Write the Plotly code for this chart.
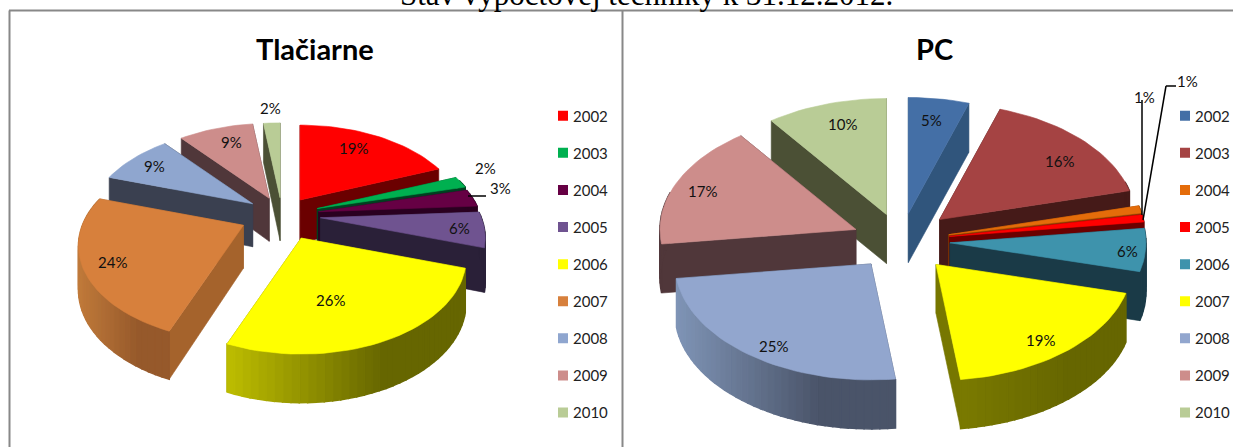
import math
import plotly.graph_objects as go

# ---- data ----
years = ["2002", "2003", "2004", "2005", "2006", "2007", "2008", "2009", "2010"]
printers_pct = [19, 2, 3, 6, 26, 24, 9, 9, 2]
pc_pct = [5, 16, 1, 1, 6, 19, 25, 17, 10]
main_title = "Stav výpočtovej techniky k 31.12.2012."
printers_title = "Tlačiarne"
pc_title = "PC"

# ---- styles ----
FONT = "Lato, Liberation Sans, sans-serif"
printers_top = ["#FF0000", "#00B050", "#660044", "#6F5390", "#FFFF00", "#D7803C", "#8FA6CF", "#CD8D8B", "#B9CC96"]
printers_side = ["#6B0000", "#004020", "#2A0020", "#2A2038", "#777700", "#A5632C", "#3A4050", "#50373A", "#4B5035"]
printers_rim_l = ["#6B0000", "#004020", "#2A0020", "#2A2038", "#BDBD00", "#C07A3A", "#3A4050", "#50373A", "#4B5035"]
printers_rim_r = ["#6B0000", "#004020", "#2A0020", "#2A2038", "#666600", "#96592B", "#3A4050", "#50373A", "#4B5035"]
printers_explode = [.20, .23, .23, .24, .28, .265, .22, .20, .19]
printers_order = [0, 8, 7, 6, 1, 2, 3, 5, 4]
printers_geom = dict(cx=282, cy=215, rx=161, ry=91, k=.216, depth=43)
printers_labels = [(353, 148), (485, 168), (500, 188), (459, 228), (330, 300), (112, 262), (154, 166), (231, 142), (270, 108)]

pc_top = ["#446FA6", "#A54343", "#E46C0A", "#FF0000", "#3E93AC", "#FFFF00", "#92A6CE", "#CD8D8B", "#B9CC96"]
pc_side = ["#30557C", "#451A18", "#8A4000", "#6B0000", "#1A3A47", "#777700", "#4A5469", "#50373A", "#4B5035"]
pc_rim_l = ["#30557C", "#451A18", "#8A4000", "#6B0000", "#1A3A47", "#7A7A00", "#7F94B6", "#50373A", "#4B5035"]
pc_rim_r = ["#30557C", "#451A18", "#8A4000", "#6B0000", "#1A3A47", "#666600", "#4A5469", "#50373A", "#4B5035"]
pc_explode = [.24, .27, .25, .25, .25, .27, .25, .25, .24]
pc_order = [0, 8, 7, 1, 2, 3, 4, 6, 5]
pc_geom = dict(cx=901, cy=241, rx=196, ry=116, k=0.0, depth=49)
pc_labels = [(931, 120), (1059, 161), (1144, 97), (1187, 81), (1127, 251), (1040, 340), (773, 346), (702, 191), (842, 124)]


def hex_rgb(c):
    return tuple(int(c[i:i + 2], 16) for i in (1, 3, 5))


def mix(a, b, t):
    t = max(0.0, min(1.0, t))
    ra, rb = hex_rgb(a), hex_rgb(b)
    return "rgb(%d,%d,%d)" % tuple(round(x + (y - x) * t) for x, y in zip(ra, rb))


def poly(fig, pts, color, lw=0.6):
    fig.add_trace(go.Scatter(
        x=[p[0] for p in pts] + [pts[0][0]], y=[p[1] for p in pts] + [pts[0][1]],
        mode="lines", fill="toself", fillcolor=color, line=dict(color=color, width=lw),
        hoverinfo="skip", showlegend=False))


def draw_pie(fig, values, top, side, rim_l, rim_r, explode, order, g):
    total = sum(values)
    bounds = [0.0]
    for v in values:
        bounds.append(bounds[-1] + v / total * 2 * math.pi)

    def rim(apex, t):
        X, Z = math.sin(t), math.cos(t)
        s = 1 / (1 + g["k"] * Z)
        return (apex[0] + g["rx"] * X * s, apex[1] - g["ry"] * Z * s, Z)

    def down(p, Z=0.0):
        s = 1 / (1 + g["k"] * Z)
        return (p[0], p[1] + g["depth"] * s ** .5)

    for i in order:
        a0, a1 = bounds[i], bounds[i + 1]
        tm = (a0 + a1) / 2
        apex = (g["cx"] + explode[i] * g["rx"] * math.sin(tm),
                g["cy"] - explode[i] * g["ry"] * math.cos(tm))
        n = max(3, int((a1 - a0) / .04))
        angles = [a0 + (a1 - a0) * j / n for j in range(n + 1)]
        arc = [rim(apex, t) for t in angles]
        # radial walls, farther one first
        walls = sorted([arc[0], arc[-1]], key=lambda p: -p[2])
        for p in walls:
            poly(fig, [apex, p[:2], down(p[:2], p[2]), down(apex)], side[i])
        # rim, strip by strip so that its shading can run across it
        xs = [p[0] for p in arc]
        lo, hi = min(xs), max(xs)
        for p, q in zip(arc[:-1], arc[1:]):
            if p[2] > .3 and q[2] > .3:
                continue
            f = ((p[0] + q[0]) / 2 - lo) / max(hi - lo, 1)
            poly(fig, [p[:2], q[:2], down(q[:2], q[2]), down(p[:2], p[2])],
                 mix(rim_l[i], rim_r[i], f / .65), lw=1.5)
        poly(fig, [apex] + [p[:2] for p in arc], top[i])


fig = go.Figure()
draw_pie(fig, printers_pct, printers_top, printers_side, printers_rim_l, printers_rim_r,
         printers_explode, printers_order, printers_geom)
draw_pie(fig, pc_pct, pc_top, pc_side, pc_rim_l, pc_rim_r, pc_explode, pc_order, pc_geom)

# legends
for name, lg, colors in (("a", "legend", printers_top), ("b", "legend2", pc_top)):
    for y, c in zip(years, colors):
        fig.add_trace(go.Scatter(x=[None], y=[None], mode="markers", name=y, legend=lg,
                                 legendgroup=name + y,
                                 marker=dict(symbol="square", size=10, color=c), hoverinfo="skip"))

legend_style = dict(xanchor="left", yanchor="top", bgcolor="rgba(0,0,0,0)", borderwidth=0,
                    tracegroupgap=14.6, itemwidth=30,
                    font=dict(family=FONT, size=15, color="#222"))

annos = []
for labels, vals in ((printers_labels, printers_pct), (pc_labels, pc_pct)):
    for (x, y), v in zip(labels, vals):
        annos.append(dict(x=x, y=y, text=f"{v}%", showarrow=False, xref="x", yref="y",
                          font=dict(family=FONT, size=15, color="#111")))
annos.append(dict(x=315, y=48, text=f"<b>{printers_title}</b>", showarrow=False, xref="x", yref="y",
                  font=dict(family=FONT, size=29, color="#000")))
annos.append(dict(x=934, y=48, text=f"<b>{pc_title}</b>", showarrow=False, xref="x", yref="y",
                  font=dict(family=FONT, size=29, color="#000")))
annos.append(dict(x=646, y=1, xref="x", yref="paper", yanchor="middle", yshift=6, text=main_title,
                  showarrow=False, font=dict(family="Liberation Serif, serif", size=31, color="#000")))


def seg(x0, y0, x1, y1, color="#000", width=1.5):
    return dict(type="line", xref="x", yref="y", x0=x0, y0=y0, x1=x1, y1=y1,
                line=dict(color=color, width=width))


shapes = [seg(9.5, 10.5, 9.5, 447, "#888", 2), seg(9, 10.5, 1233, 10.5, "#888", 2), seg(622.5, 10.5, 622.5, 447, "#888", 2),
          seg(468, 196, 486, 196),
          seg(1142, 100, 1142, 215),
          seg(1143, 220, 1166, 86), seg(1166, 86, 1176, 86)]

fig.update_layout(
    width=1233, height=447, margin=dict(l=0, r=0, t=0, b=0, autoexpand=False),
    paper_bgcolor="white", plot_bgcolor="white",
    xaxis=dict(range=[0, 1233], visible=False, fixedrange=True),
    yaxis=dict(range=[447, 0], visible=False, fixedrange=True),
    legend=dict(x=533 / 1233, y=1 - 99.5 / 447, **legend_style),
    legend2=dict(x=1155 / 1233, y=1 - 99.5 / 447, **legend_style),
    shapes=shapes, annotations=annos, showlegend=True)

# the swatches sit closer to their text in the reference than plotly's fixed item width allows
post = """
document.body.style.margin='0';document.body.style.overflow='hidden';
var gd=document.querySelector('.plotly-graph-div');
var nudge=function(){document.querySelectorAll('.legendsymbols').forEach(function(e){e.setAttribute('transform','translate(10,0)');});};
nudge();gd.on('plotly_afterplot',nudge);setTimeout(nudge,200);
"""
fig.write_html("out.html", config=dict(displayModeBar=False), post_script=post)
